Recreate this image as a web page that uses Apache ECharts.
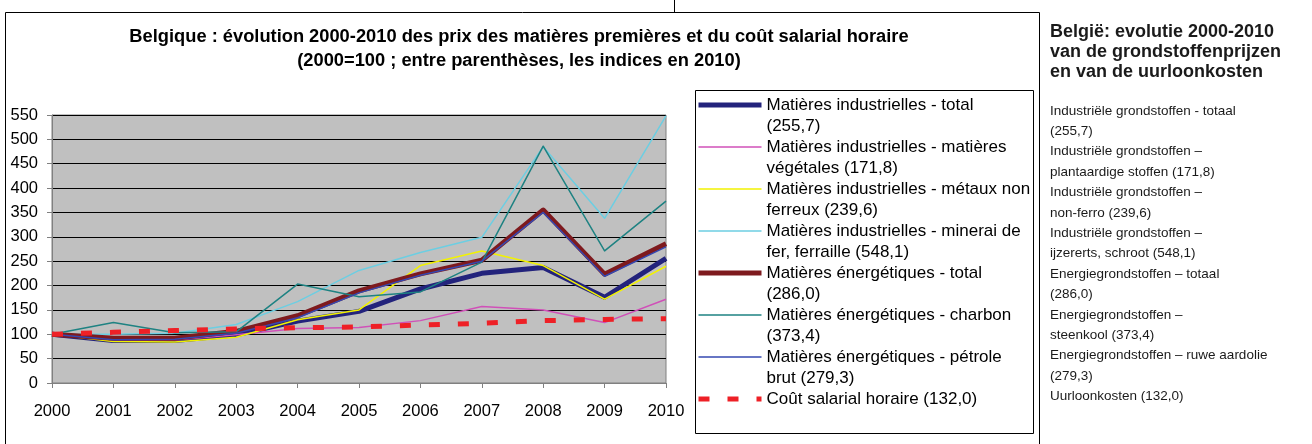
<!DOCTYPE html>
<html>
<head>
<meta charset="utf-8">
<script src="https://cdn.jsdelivr.net/npm/echarts@6/dist/echarts.min.js"></script>
<style>
html,body{margin:0;padding:0;background:#fff;}
#c{width:1312px;height:444px;}
</style>
</head>
<body>
<div id="c"></div>
<script>
// ---------- data ----------
const years = ['2000','2001','2002','2003','2004','2005','2006','2007','2008','2009','2010'];
const indTotal   = [100, 87, 87, 99, 127, 147, 193, 225, 237, 176, 255.7];
const vegetales  = [100, 88, 88, 99, 112, 114, 128, 157, 150, 124, 171.8];
const metaux     = [100, 85, 84, 94, 130, 150, 241, 271, 241, 172, 239.6];
const minerai    = [100, 100, 102, 120, 167, 231, 268, 299, 485, 338, 548.1];
const energTotal = [100, 92, 92, 106, 138, 189, 224, 252, 355, 223, 286.0];
const charbon    = [100, 124, 103, 105, 203, 177, 187, 248, 486, 271, 373.4];
const petrole    = [100, 89, 90, 102, 134, 185, 221, 250, 350, 219, 279.3];
const salaire    = [100, 104, 107.5, 111, 113.5, 115, 119, 122.5, 128, 130.5, 132.0];

const seriesNames = [
  'Matières industrielles - total\n(255,7)',
  'Matières industrielles - matières\nvégétales (171,8)',
  'Matières industrielles - métaux non\nferreux (239,6)',
  'Matières industrielles - minerai de\nfer, ferraille (548,1)',
  'Matières énergétiques - total\n(286,0)',
  'Matières énergétiques - charbon\n(373,4)',
  'Matières énergétiques - pétrole\nbrut (279,3)',
  'Coût salarial horaire (132,0)'
];
const yTicks = [0, 50, 100, 150, 200, 250, 300, 350, 400, 450, 500, 550];

const titleLines = [
  'Belgique : évolution 2000-2010 des prix des matières premières et du coût salarial horaire',
  '(2000=100 ; entre parenthèses, les indices en 2010)'
];
const nlTitleLines = [
  'België: evolutie 2000-2010',
  'van de grondstoffenprijzen',
  'en van de uurloonkosten'
];
const nlLegendLines = [
  'Industriële grondstoffen - totaal',
  '(255,7)',
  'Industriële grondstoffen –',
  'plantaardige stoffen (171,8)',
  'Industriële grondstoffen –',
  'non-ferro (239,6)',
  'Industriële grondstoffen –',
  'ijzererts, schroot (548,1)',
  'Energiegrondstoffen – totaal',
  '(286,0)',
  'Energiegrondstoffen –',
  'steenkool (373,4)',
  'Energiegrondstoffen – ruwe aardolie',
  '(279,3)',
  'Uurloonkosten (132,0)'
];

// ---------- styles ----------
const FONT = 'Liberation Sans, Arial, sans-serif';
const styles = [
  {color:'#23237C', width:5},
  {color:'#D050B8', width:1.5},
  {color:'#F2F200', width:1.5},
  {color:'#6CCEE2', width:1.5},
  {color:'#7E1A1E', width:5},
  {color:'#1E8282', width:1.5},
  {color:'#3548B0', width:1.5},
  {color:'#EE2026', width:5, type:[11,18]}
];
const dataSets = [indTotal, vegetales, metaux, minerai, energTotal, charbon, petrole, salaire];

const chart = echarts.init(document.getElementById('c'), null, {renderer:'canvas'});

const series = dataSets.map((d, i) => ({
  name: seriesNames[i],
  type: 'line',
  data: d,
  symbol: 'none',
  showSymbol: false,
  smooth: false,
  animation: false,
  color: styles[i].color,
  lineStyle: {color: styles[i].color, width: styles[i].width, type: styles[i].type || 'solid', cap: 'butt', join: 'round'}
}));

const option = {
  backgroundColor: '#ffffff',
  animation: false,
  textStyle: {fontFamily: FONT},
  title: {
    text: titleLines.join('\n'),
    left: 519,
    top: 25,
    padding: 0,
    textAlign: 'center',
    textStyle: {fontFamily: FONT, fontSize: 18.3, fontWeight: 'bold', color: '#000', lineHeight: 24}
  },
  grid: {
    left: 52, top: 115, width: 614, height: 268,
    show: true, backgroundColor: '#C0C0C0', borderColor: '#808080', borderWidth: 1,
    containLabel: false
  },
  legend: {
    orient: 'vertical',
    left: 696,
    top: 73.5,
    padding: 0,
    itemWidth: 63,
    itemHeight: 14,
    itemGap: -21,
    selectedMode: false,
    itemStyle: {opacity: 0},
    data: seriesNames.map((n, i) => ({
      name: n,
      itemStyle: {opacity: 0},
      lineStyle: {color: styles[i].color, width: styles[i].width, type: styles[i].type || 'solid', cap: 'butt'}
    })),
    formatter: (name) => ' \n' + (name.indexOf('\n') < 0 ? name + '\n ' : name),
    textStyle: {fontFamily: FONT, fontSize: 17, color: '#000', lineHeight: 21}
  },
  xAxis: {
    type: 'category',
    data: years,
    boundaryGap: false,
    axisLine: {show: true, lineStyle: {color: '#808080', width: 1}},
    axisTick: {show: true, inside: false, length: 5, alignWithLabel: true, lineStyle: {color: '#808080'}},
    axisLabel: {fontFamily: FONT, fontSize: 16.5, color: '#000', margin: 19.5, interval: 0},
    splitLine: {show: false}
  },
  yAxis: {
    type: 'value',
    min: yTicks[0],
    max: yTicks[yTicks.length - 1],
    interval: 50,
    axisLine: {show: true, lineStyle: {color: '#808080', width: 1}},
    axisTick: {show: true, inside: false, length: 5, lineStyle: {color: '#808080'}},
    axisLabel: {fontFamily: FONT, fontSize: 16.5, color: '#000', margin: 14},
    splitLine: {show: true, lineStyle: {color: '#000', width: 1}}
  },
  graphic: [
    // outer chart frame
    {type: 'polyline', silent: true, z: 100,
      shape: {points: [[5.5, 450], [5.5, 12.5], [1039.5, 12.5], [1039.5, 450]]},
      style: {stroke: '#000', lineWidth: 1, fill: null}},
    {type: 'line', silent: true, z: 100,
      shape: {x1: 674.5, y1: 0, x2: 674.5, y2: 12.5},
      style: {stroke: '#000', lineWidth: 1}},
    // legend frame
    {type: 'rect', silent: true, z: 100,
      shape: {x: 695.5, y: 90.5, width: 338, height: 343},
      style: {stroke: '#000', lineWidth: 1, fill: null}},
    // Dutch panel
    {type: 'text', silent: true, z: 100, left: 1050, top: 21.7,
      style: {text: nlTitleLines.join('\n'), font: 'bold 18px ' + FONT, fill: '#1a1a1a', lineHeight: 20}},
    {type: 'text', silent: true, z: 100, left: 1050, top: 100.6,
      style: {text: nlLegendLines.join('\n'), font: '13.5px ' + FONT, fill: '#1a1a1a', lineHeight: 20.4}}
  ],
  series: series
};
chart.setOption(option);
</script>
</body>
</html>
